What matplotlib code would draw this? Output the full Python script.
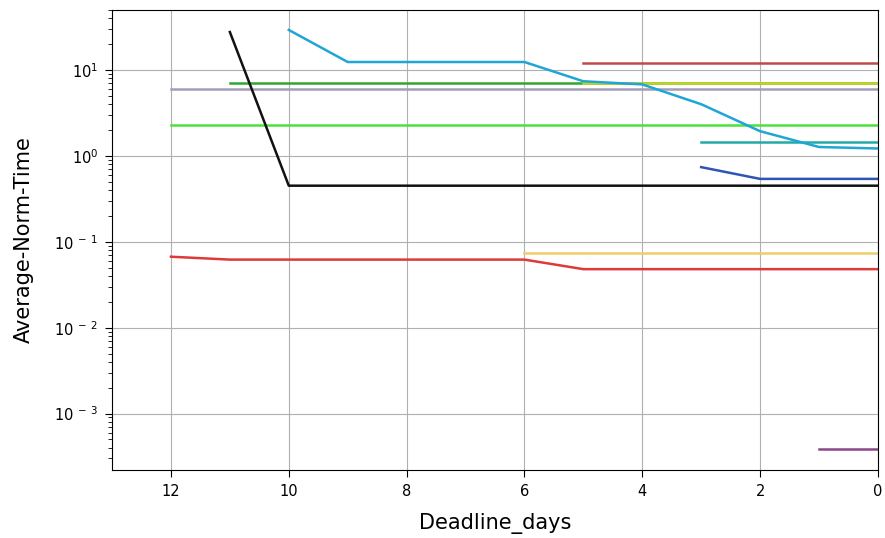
import matplotlib
matplotlib.use("Agg")
import matplotlib.pyplot as plt
from matplotlib.ticker import FuncFormatter, LogLocator
import numpy as np

# average normalised run time per method, indexed by days left to deadline
black_days = [11, 10, 9, 8, 7, 6, 5, 4, 3, 2, 1, 0]
black_vals = [27.7, 0.45, 0.45, 0.45, 0.45, 0.45, 0.45, 0.45, 0.45, 0.45, 0.45, 0.45]

cyan_days = [10, 9, 8, 7, 6, 5, 4, 3, 2, 1, 0]
cyan_vals = [29.3, 12.4, 12.4, 12.4, 12.4, 7.4, 6.8, 4.0, 1.94, 1.27, 1.22]

green_days = [11, 10, 9, 8, 7, 6, 5, 4, 3, 2, 1, 0]
green_vals = [7.1] * 12

olive_days = [5, 4, 3, 2, 1, 0]
olive_vals = [7.1] * 6

lavender_days = [12, 11, 10, 9, 8, 7, 6, 5, 4, 3, 2, 1, 0]
lavender_vals = [6.0] * 13

lime_days = [12, 11, 10, 9, 8, 7, 6, 5, 4, 3, 2, 1, 0]
lime_vals = [2.3] * 13

brown_days = [5, 4, 3, 2, 1, 0]
brown_vals = [12.1] * 6

teal_days = [3, 2, 1, 0]
teal_vals = [1.45, 1.45, 1.45, 1.45]

blue_days = [3, 2, 1, 0]
blue_vals = [0.74, 0.54, 0.54, 0.54]

red_days = [12, 11, 10, 9, 8, 7, 6, 5, 4, 3, 2, 1, 0]
red_vals = [0.067, 0.062, 0.062, 0.062, 0.062, 0.062, 0.062,
            0.048, 0.048, 0.048, 0.048, 0.048, 0.048]

gold_days = [6, 5, 4, 3, 2, 1, 0]
gold_vals = [0.0735] * 7

purple_days = [1, 0]
purple_vals = [0.00039, 0.00039]

series = [
    (lavender_days, lavender_vals, "#a39dbb"),
    (lime_days, lime_vals, "#4ce23c"),
    (green_days, green_vals, "#2fa82f"),
    (olive_days, olive_vals, "#c4d622"),
    (brown_days, brown_vals, "#c04a48"),
    (teal_days, teal_vals, "#22aaa6"),
    (blue_days, blue_vals, "#2f55b4"),
    (gold_days, gold_vals, "#f0cc6a"),
    (red_days, red_vals, "#e0393a"),
    (purple_days, purple_vals, "#8a4688"),
    (cyan_days, cyan_vals, "#1fa6d6"),
    (black_days, black_vals, "#111111"),
]


def decade_label(v, pos):
    e = int(round(np.log10(v)))
    if e < 0:
        return r"$\mathdefault{10^{\;-\;%d}}$" % (-e)
    return r"$\mathdefault{10^{%d}}$" % e


fig = plt.figure(figsize=(8.85, 5.38), dpi=100)
ax = fig.add_axes([0.1266, 0.1264, 0.8654, 0.855])

for days, vals, col in series:
    ax.plot(days, vals, color=col, linewidth=1.8)

ax.set_yscale("log")
ax.set_xlim(13, 0)
ax.set_ylim(2.2e-4, 50)
ax.set_xticks([12, 10, 8, 6, 4, 2, 0])
ax.yaxis.set_major_locator(LogLocator(base=10))
ax.yaxis.set_major_formatter(FuncFormatter(decade_label))
ax.grid(True, which="major", color="#b0b0b0", linewidth=0.8)
ax.set_xlabel("Deadline_days", fontsize=15, labelpad=10.5)
ax.set_ylabel("Average-Norm-Time", fontsize=15, labelpad=14)
ax.tick_params(which="major", labelsize=10.5, length=5, pad=5)
ax.tick_params(which="minor", length=3)

fig.savefig("out.png", dpi=100)
